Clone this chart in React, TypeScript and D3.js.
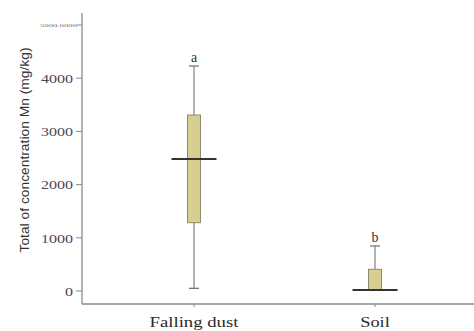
import React from "react";
import * as d3 from "d3";

const categories = ["Falling dust", "Soil"];
const q1 = [1284, 20];
const median = [2481, 20];
const q3 = [3308, 408];
const whiskerLow = [50, 20];
const whiskerHigh = [4229, 846];
const letters = ["a", "b"];
const yTicks = [0, 1000, 2000, 3000, 4000];
const topTickValue = 5000;
const topTickLabel = "5000.0000";

export default function App() {
  const W = 474, H = 331;
  const y = d3.scaleLinear().domain([0, 5000]).range([291, 25]);
  const x = d3.scalePoint<string>().domain(categories).range([194, 375]);
  const axisX = 82;
  const axisBottom = 304;
  const axisColor = "#8a8a8a";
  const serif = "'Liberation Serif', 'Times New Roman', serif";
  return (
    <svg width={W} height={H} style={{ position: "absolute", left: 0, top: 0, background: "#fff" }}>
      {/* axes */}
      <line x1={axisX} x2={axisX} y1={13} y2={axisBottom} stroke={axisColor} strokeWidth={1.3} />
      <line x1={axisX} x2={W} y1={axisBottom} y2={axisBottom} stroke={axisColor} strokeWidth={1.3} />
      {yTicks.map((t) => {
        const label = String(t);
        return (
          <g key={t}>
            <line x1={axisX - 6} x2={axisX} y1={y(t)} y2={y(t)} stroke={axisColor} strokeWidth={1} />
            <text
              x={axisX - 9}
              y={y(t)}
              dy="0.36em"
              textAnchor="end"
              fontFamily={serif}
              fontSize={13.5}
              fill="#4a4a55"
              textLength={label.length * 8}
              lengthAdjust="spacingAndGlyphs"
            >
              {label}
            </text>
          </g>
        );
      })}
      <line x1={axisX - 5} x2={axisX} y1={y(topTickValue)} y2={y(topTickValue)} stroke={axisColor} strokeWidth={1} />
      <text
        x={axisX - 5}
        y={y(topTickValue)}
        dy="0.35em"
        textAnchor="end"
        fontFamily={serif}
        fontSize={5}
        fill="#666"
        textLength={37}
        lengthAdjust="spacingAndGlyphs"
      >
        {topTickLabel}
      </text>
      <text
        transform={`translate(29,150) rotate(-90)`}
        textAnchor="middle"
        fontFamily="'Liberation Sans', Arial, sans-serif"
        fontSize={12.5}
        fill="#333"
        textLength={205}
        lengthAdjust="spacingAndGlyphs"
      >
        Total of concentration Mn (mg/kg)
      </text>
      {categories.map((c, i) => {
        const cx = x(c) as number;
        return (
          <g key={c}>
            <line x1={cx} x2={cx} y1={axisBottom} y2={axisBottom + 3} stroke={axisColor} strokeWidth={1} />
            <text
              x={cx}
              y={327}
              textAnchor="middle"
              fontFamily={serif}
              fontSize={14}
              fill="#2a2a2a"
              textLength={c.length * 7.4}
              lengthAdjust="spacingAndGlyphs"
            >
              {c}
            </text>
            {/* whiskers */}
            <line x1={cx} x2={cx} y1={y(whiskerHigh[i])} y2={y(q3[i])} stroke="#9a9a9a" strokeWidth={1.5} />
            <line x1={cx} x2={cx} y1={y(q1[i])} y2={y(whiskerLow[i])} stroke="#9a9a9a" strokeWidth={1.5} />
            <line x1={cx - 5} x2={cx + 5} y1={y(whiskerHigh[i])} y2={y(whiskerHigh[i])} stroke="#777" strokeWidth={1.3} />
            <line x1={cx - 5} x2={cx + 5} y1={y(whiskerLow[i])} y2={y(whiskerLow[i])} stroke="#777" strokeWidth={1.3} />
            <rect
              x={cx - 6.5}
              width={13}
              y={y(q3[i])}
              height={y(q1[i]) - y(q3[i])}
              fill="#d6cf91"
              stroke="#8f8b6a"
              strokeWidth={1}
            />
            <line x1={cx - 22.5} x2={cx + 22.5} y1={y(median[i])} y2={y(median[i])} stroke="#333" strokeWidth={2} />
            <text
              x={cx}
              y={y(whiskerHigh[i]) - 4}
              textAnchor="middle"
              fontFamily={serif}
              fontSize={14}
              fill="#333"
            >
              {letters[i]}
            </text>
          </g>
        );
      })}
    </svg>
  );
}
